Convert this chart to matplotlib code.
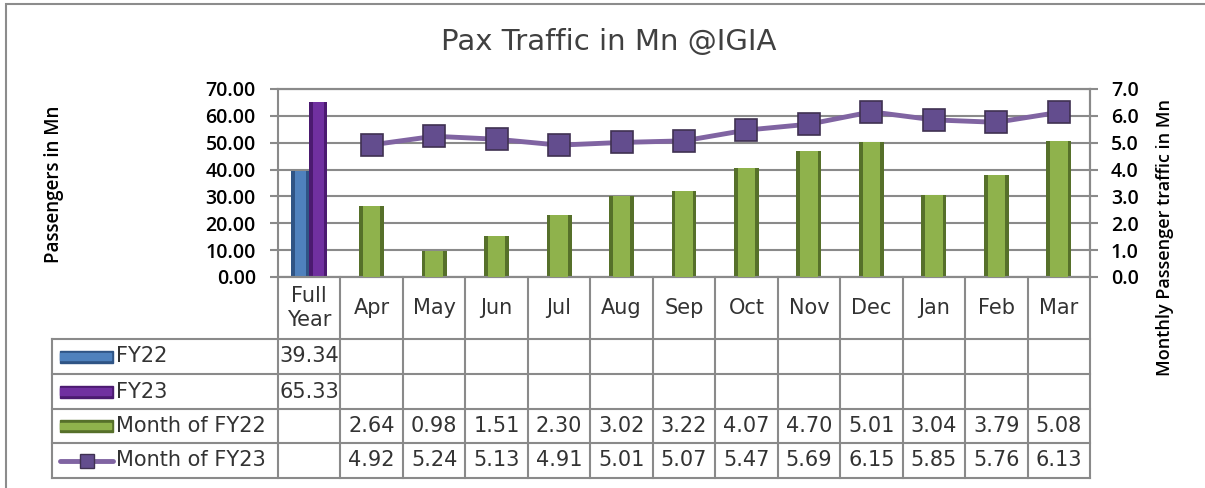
import matplotlib.pyplot as plt
from matplotlib.patches import Rectangle
from matplotlib.lines import Line2D
from matplotlib.transforms import blended_transform_factory
import numpy as np

categories = ["Full\nYear", "Apr", "May", "Jun", "Jul", "Aug", "Sep",
              "Oct", "Nov", "Dec", "Jan", "Feb", "Mar"]
fy22_full = 39.34
fy23_full = 65.33
month_fy22 = [2.64, 0.98, 1.51, 2.30, 3.02, 3.22, 4.07, 4.70, 5.01, 3.04, 3.79, 5.08]
month_fy23 = [4.92, 5.24, 5.13, 4.91, 5.01, 5.07, 5.47, 5.69, 6.15, 5.85, 5.76, 6.13]
row_labels = ["FY22", "FY23", "Month of FY22", "Month of FY23"]

W, H = 1205, 488
fig = plt.figure(figsize=(W / 100, H / 100), dpi=100)


def fx(px):
    return px / W


def fy(py):
    return 1 - py / H


grid_c = "#8a8a8a"
txt_c = "#333333"
tick_font = dict(family=["Open Sans", "DejaVu Sans"], weight="semibold")

# outer chart border (clipped at right / bottom like the screenshot)
fig.patches.append(Rectangle((fx(6), fy(H + 20)), fx(W + 20), fy(4) - fy(H + 20),
                             transform=fig.transFigure, fill=False,
                             edgecolor="#8c8c8c", lw=1.5))

ax = fig.add_axes([fx(278), fy(277), fx(1090) - fx(278), fy(89) - fy(277)])
ax2 = ax.twinx()

x = np.arange(len(categories))
xm = x[1:]

# full year bars (left axis)
ax.bar(-0.145, fy22_full, width=0.29, color="#2f5485", zorder=2)
ax.bar(-0.145, fy22_full, width=0.18, color="#4f81bd", zorder=3)
ax.bar(0.145, fy23_full, width=0.29, color="#4b1a70", zorder=2)
ax.bar(0.145, fy23_full, width=0.18, color="#7030a0", zorder=3)

# monthly bars + line (right axis)
ax2.bar(xm, month_fy22, width=0.4, color="#56702a", zorder=2)
ax2.bar(xm, month_fy22, width=0.28, color="#8fb24c", zorder=3)
ax2.plot(xm, month_fy23, color="#8064a2", lw=3.5, marker="s", ms=16,
         mfc="#634d8e", mec="#3f3151", mew=1.2, zorder=5)

ax.set_xlim(-0.5, 12.5)
ax.set_ylim(0, 70)
ax2.set_ylim(0, 7)
ax.set_yticks(np.arange(0, 71, 10))
ax.set_yticklabels([f"{v:.2f}" for v in np.arange(0, 71, 10)], **tick_font,
                   fontsize=14, color="black")
ax2.set_yticks(np.arange(0, 7.1, 1))
ax2.set_yticklabels([f"{v:.1f}" for v in np.arange(0, 7.1, 1)], **tick_font,
                    fontsize=14, color="black")
ax.set_xticks([])
ax.grid(axis="y", color=grid_c, lw=1.5, zorder=0)
ax.tick_params(axis="y", length=6, width=1.5, color=grid_c, pad=10)
ax2.tick_params(axis="y", length=6, width=1.5, color=grid_c, pad=9)
for a in (ax, ax2):
    for s in a.spines.values():
        s.set_color(grid_c)
        s.set_linewidth(1.5)
ax2.spines["left"].set_visible(False)

fig.text(fx(54), fy(184), "Passengers in Mn", rotation=90, ha="center",
         va="center", **tick_font, fontsize=13.5, color="black")
fig.text(fx(1165), fy(237), "Monthly Passenger traffic in Mn", rotation=90,
         ha="center", va="center", **tick_font, fontsize=13, color="black")

fig.text(fx(609), fy(42), "Pax Traffic in Mn @IGIA", ha="center", va="center",
         fontsize=21, color="#404040", family="DejaVu Sans")

# data table below the plot
bt = blended_transform_factory(ax.transData, fig.transFigure)
row_y = [277, 339, 374, 409, 443, 478]
line_kw = dict(color=grid_c, lw=1.5, clip_on=False)
for b in np.arange(-0.5, 12.6, 1):
    fig.add_artist(Line2D([b, b], [fy(277), fy(478)], transform=bt, **line_kw))
for yy in row_y[1:]:
    fig.add_artist(Line2D([fx(52), fx(1090)], [fy(yy), fy(yy)],
                          transform=fig.transFigure, **line_kw))
fig.add_artist(Line2D([fx(52), fx(52)], [fy(339), fy(478)],
                      transform=fig.transFigure, **line_kw))

cell_font = dict(family="DejaVu Sans", fontsize=15, color=txt_c,
                 ha="center", va="center")
for i, c in enumerate(categories):
    fig.text(x[i], fy(308), c, transform=bt, linespacing=1.2, **cell_font)

rows = [[fy22_full] + [None] * 12,
        [fy23_full] + [None] * 12,
        [None] + month_fy22,
        [None] + month_fy23]
for r, vals in enumerate(rows):
    yc = (row_y[r + 1] + row_y[r + 2]) / 2
    for i, v in enumerate(vals):
        if v is not None:
            fig.text(x[i], fy(yc), f"{v:.2f}", transform=bt, **cell_font)
    fig.text(fx(116), fy(yc), row_labels[r], family="DejaVu Sans", fontsize=15,
             color=txt_c, ha="left", va="center")

# legend keys
key_cols = [("#2f5485", "#4f81bd"), ("#4b1a70", "#7030a0"), ("#56702a", "#8fb24c")]
for r, (dark, light) in enumerate(key_cols):
    yc = (row_y[r + 1] + row_y[r + 2]) / 2
    fig.patches.append(Rectangle((fx(60), fy(yc + 6)), fx(53), fy(yc - 6) - fy(yc + 6),
                                 transform=fig.transFigure, color=dark))
    fig.patches.append(Rectangle((fx(60), fy(yc + 3)), fx(51), fy(yc - 3) - fy(yc + 3),
                                 transform=fig.transFigure, color=light))
yc = (row_y[4] + row_y[5]) / 2
fig.add_artist(Line2D([fx(60), fx(113)], [fy(yc), fy(yc)], transform=fig.transFigure,
                      color="#8064a2", lw=3.5, solid_capstyle="round"))
fig.add_artist(Line2D([fx(87)], [fy(yc)], transform=fig.transFigure, marker="s",
                      ms=10, mfc="#634d8e", mec="#3f3151", mew=1))

fig.savefig("out.png", dpi=100)
